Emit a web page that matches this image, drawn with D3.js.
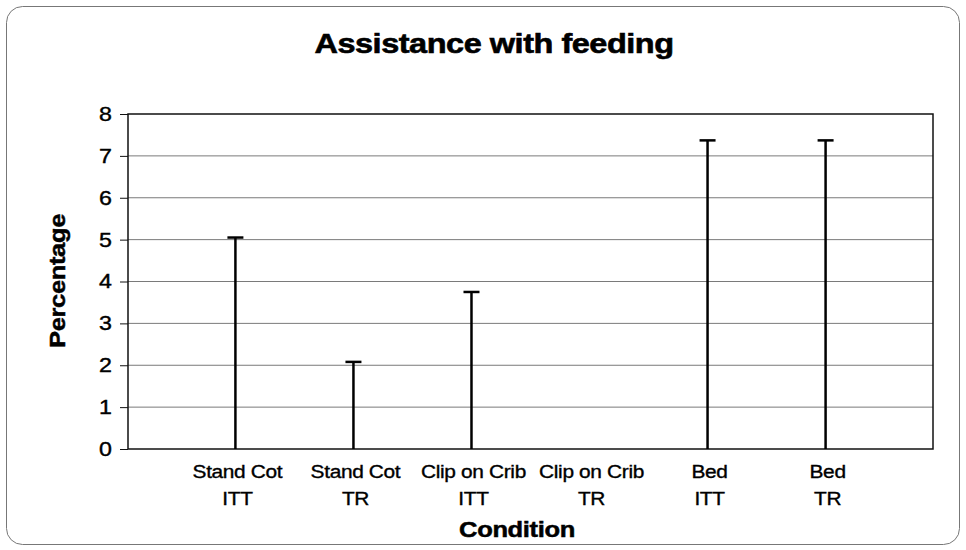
<!DOCTYPE html>
<html>
<head>
<meta charset="utf-8">
<script src="https://cdn.jsdelivr.net/npm/d3@7"></script>
<style>
  body { margin: 0; background: #fff; }
  text { font-family: "Liberation Sans", Arial, sans-serif; fill: #000; }
</style>
</head>
<body>
<svg id="chart" width="966" height="550"></svg>
<script>
// chart data
const conditions = ["Stand Cot", "Stand Cot", "Clip on Crib", "Clip on Crib", "Bed", "Bed"];
const analyses = ["ITT", "TR", "ITT", "TR", "ITT", "TR"];
const percentages = [5.05, 2.08, 3.75, 0, 7.37, 7.37];
const yTicks = [0, 1, 2, 3, 4, 5, 6, 7, 8];

const plot = { left: 128, right: 933, top: 114, bottom: 449 };
// the scanned text is a little wider than plain Arial
const stretch = 1.16;

const svg = d3.select('#chart');

// outer rounded frame
svg.append('rect')
    .attr('x', 6.5).attr('y', 6.5)
    .attr('width', 953).attr('height', 538)
    .attr('rx', 16)
    .attr('fill', '#fff')
    .attr('stroke', '#777')
    .attr('stroke-width', 1);

const x = d3.scalePoint()
    .domain(d3.range(percentages.length))
    .range([plot.left, plot.right])
    .padding(0.91);

const y = d3.scaleLinear()
    .domain([0, 8])
    .range([plot.bottom, plot.top]);

// gridlines
svg.append('g')
    .selectAll('line')
    .data(yTicks.filter(t => t > 0 && t < 8))
    .enter().append('line')
    .attr('x1', plot.left).attr('x2', plot.right)
    .attr('y1', d => y(d)).attr('y2', d => y(d))
    .attr('stroke', '#7a7a7a')
    .attr('stroke-width', 1);

// plot frame
svg.append('rect')
    .attr('x', plot.left).attr('y', plot.top)
    .attr('width', plot.right - plot.left)
    .attr('height', plot.bottom - plot.top)
    .attr('fill', 'none')
    .attr('stroke', '#111')
    .attr('stroke-width', 1.5);

// y axis
const yAxis = svg.append('g')
    .attr('transform', `translate(${plot.left},0)`)
    .call(d3.axisLeft(y).tickValues(yTicks).tickSize(8).tickPadding(8));
yAxis.select('.domain').remove();
yAxis.selectAll('.tick line').attr('stroke', '#111');
yAxis.selectAll('text')
    .style('font-family', '"Liberation Sans", Arial, sans-serif')
    .style('font-size', '20px')
    .attr('fill', '#000')
    .attr('stroke', '#000')
    .attr('stroke-width', 0.4)
    .attr('x', -16 / stretch)
    .attr('transform', `scale(${stretch},1)`);

// stems with caps
const marks = svg.append('g');
marks.selectAll('line.stem')
    .data(percentages)
    .enter().append('line')
    .attr('class', 'stem')
    .attr('x1', (d, i) => x(i)).attr('x2', (d, i) => x(i))
    .attr('y1', y(0)).attr('y2', d => y(d))
    .attr('stroke', '#000')
    .attr('stroke-width', 2.5);

marks.selectAll('line.cap')
    .data(percentages.map((v, i) => ({ v, i })).filter(d => d.v > 0))
    .enter().append('line')
    .attr('class', 'cap')
    .attr('x1', d => x(d.i) - 8).attr('x2', d => x(d.i) + 8)
    .attr('y1', d => y(d.v)).attr('y2', d => y(d.v))
    .attr('stroke', '#000')
    .attr('stroke-width', 2.5);

// category labels, two lines each
const catLabels = svg.append('g')
    .selectAll('text')
    .data(conditions)
    .enter().append('text')
    .attr('transform', (d, i) => `translate(${x(i) + 2},478) scale(${stretch},1)`)
    .attr('text-anchor', 'middle')
    .attr('stroke', '#000')
    .attr('stroke-width', 0.35)
    .style('font-size', '18px')
    .style('letter-spacing', '-0.3px');
catLabels.append('tspan')
    .attr('x', 0).attr('y', 0)
    .text(d => d);
catLabels.append('tspan')
    .attr('x', 0).attr('y', 27)
    .text((d, i) => analyses[i]);

// titles
svg.append('text')
    .attr('transform', `translate(494,53) scale(${stretch},1)`)
    .attr('text-anchor', 'middle')
    .attr('stroke', '#000')
    .attr('stroke-width', 0.6)
    .style('font-size', '28px')
    .style('font-weight', 'bold')
    .style('letter-spacing', '-0.4px')
    .text('Assistance with feeding');

svg.append('text')
    .attr('transform', `translate(65,281) rotate(-90) scale(${stretch},1)`)
    .attr('text-anchor', 'middle')
    .attr('stroke', '#000')
    .attr('stroke-width', 0.5)
    .style('font-size', '22px')
    .style('font-weight', 'bold')
    .style('letter-spacing', '-0.3px')
    .text('Percentage');

svg.append('text')
    .attr('transform', `translate(517,537) scale(${stretch},1)`)
    .attr('text-anchor', 'middle')
    .attr('stroke', '#000')
    .attr('stroke-width', 0.5)
    .style('font-size', '22px')
    .style('font-weight', 'bold')
    .style('letter-spacing', '-0.3px')
    .text('Condition');
</script>
</body>
</html>
